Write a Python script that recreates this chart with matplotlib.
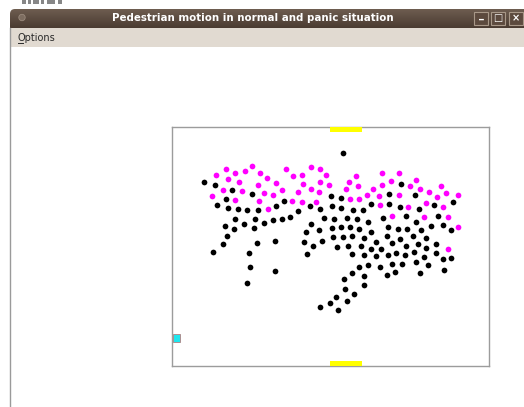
import numpy as np
import matplotlib
matplotlib.use("Agg")
import matplotlib.pyplot as plt
from matplotlib.patches import Rectangle, FancyBboxPatch, Circle
from matplotlib.colors import LinearSegmentedColormap

# ---------------- data (frame-relative pixel units, origin top-left of room) ----------------
black_x = [32.3, 43.3, 60.3, 54, 80, 45.3, 56, 66, 75.3, 86.7, 104.7, 112, 138, 148.7, 126.3, 118, 110.7,
           101.3, 92.7, 83, 63.3, 72, 62.3, 53, 82.3, 152.7, 139.3, 134, 147.3,
           171.3, 159.7, 169, 217.7, 229.7, 243.7, 160, 169.3, 181.3, 191.3, 199, 217.3, 228, 247, 262.7,
           281.3, 162.3, 175.7, 185.3, 196.3, 211.3, 234, 244, 266.7, 160, 169, 178, 187.7, 199, 216.7,
           226.7, 235.3, 249.7, 259.3, 271.3, 279,
           55.3, 51.3, 41.3, 85.3, 103.3, 77.3, 78, 75.7, 103.3, 132.7, 141.3, 150.7, 135.3, 161.3, 171.3,
           180.7, 192, 215.3, 228.7, 241.3, 254, 264, 279.7, 271.3, 272, 165.3, 176.7, 189.3, 204.7, 199.3,
           220.7, 234, 246, 254.7, 264.7, 180.7, 192.7, 209.3, 204, 216, 224.7, 233.3, 242, 252.7, 244, 256,
           230, 220, 208, 196.7, 187.3, 180.7, 192, 172, 192.7, 173.3, 182.7, 164.7, 158, 148.7, 175.3,
           166.7, 215.3, 223.3, 248.7]
black_y = [54.7, 57.3, 62.7, 71.7, 66.7, 77.3, 80.3, 82, 82.3, 83, 78.3, 73.3, 79, 82, 84, 89.7, 92,
           93, 95.7, 91.7, 91.7, 96.3, 101.3, 99, 100.7, 91, 97, 104.7, 103,
           26, 68.7, 70.7, 67, 57, 68, 79, 81, 82.3, 83, 77, 77, 79.7, 82, 78,
           75, 91.3, 90.7, 91.7, 95, 90.3, 89, 94.3, 88.3, 100.7, 100, 99.7, 101.3, 104.3, 99.7,
           101.7, 102, 102.3, 99, 97.7, 103,
           108.3, 117, 124.3, 115.3, 113.7, 126, 140, 156, 143.7, 114.3, 118.7, 114, 126.3, 110, 109.7,
           108.3, 110.7, 108.3, 111.3, 109, 111, 116.7, 130.3, 132, 142.3, 119.7, 118.3, 119, 114.7, 121.3,
           115.7, 119, 117, 120.3, 125.3, 126.3, 128, 122, 129, 128, 125.7, 128, 124.7, 129.7, 134.7, 137.7,
           136.3, 136.7, 140, 137.7, 139.7, 145.7, 148.3, 152, 158, 161.7, 166.3, 169.3, 175.3, 180, 173.3,
           182.7, 147.3, 145, 145.7]

magenta_x = [54.7, 80.7, 44.3, 63.3, 73.3, 88, 95.7, 114.7, 121.3, 130.7, 139.3, 148.7, 154.7, 56.3, 67,
             104, 131.3, 148, 51.3, 70.7, 86.3, 110.7, 126.7, 139.3, 40.3, 92.3, 101.3, 147.3, 63.3, 87.3,
             120.7, 130, 144.7, 96,
             184.7, 177.7, 186.3, 174, 210, 227.3, 219, 210.7, 201.7, 207.7, 195, 187.7, 178.3, 244.7, 238,
             248.7, 257, 269, 274, 265.7, 286.7, 227, 254, 236.7, 271.3, 276, 220.3, 252, 208, 286.7, 157,
             276.7]
magenta_y = [41.3, 39, 47.3, 45.3, 44, 45.3, 50.3, 42, 49, 47.7, 39.3, 41.3, 48, 52, 55,
             55.7, 56.3, 55, 62.3, 63.7, 58, 63, 64.3, 61.3, 69, 65.3, 67.7, 64.7, 73, 74,
             73.7, 74.3, 74.3, 82,
             48.7, 54.3, 59, 62, 45.7, 45.3, 53.7, 58, 61.3, 68.3, 67.3, 71.7, 72, 53, 58.7,
             61.3, 65, 58.3, 65.7, 70, 68, 67.7, 76, 80, 79.7, 90, 89, 89.7, 78, 100, 57.3,
             121.7]

room_w, room_h = 317.0, 238.5
door_x = [158.5, 190.5]               # doors (top and bottom walls)
exit_marker = (1.0, 207.0, 7.5, 7.5)  # cyan marker: x, y, w, h

window_title = "Pedestrian motion in normal and panic situation"
menu_label = "Options"

# ---------------- figure ----------------
W, H = 524, 407
fig = plt.figure(figsize=(W / 100, H / 100), dpi=100)
fig.patch.set_facecolor("white")

bg = fig.add_axes([0, 0, 1, 1])
bg.set_xlim(0, W)
bg.set_ylim(H, 0)
bg.axis("off")

# left window edge line
bg.plot([9.5, 9.5], [28, H], color="#9a9a9a", lw=1.0)

# desktop fragments visible above the window
for fx, fw in [(22, 4), (28, 3), (33, 6), (41, 3), (47, 8), (58, 4)]:
    bg.add_patch(Rectangle((fx, 0), fw, 3.5, facecolor="#555555", edgecolor="none", alpha=0.7))

# title bar with gradient and rounded top-left corner
tb = FancyBboxPatch((10, 9), W + 20, 26, boxstyle="round,pad=0,rounding_size=5",
                    facecolor="none", edgecolor="none")
bg.add_patch(tb)
grad = np.linspace(0, 1, 64).reshape(-1, 1)
cm = LinearSegmentedColormap.from_list("tb", ["#6e5d50", "#4a3b31"])
im = bg.imshow(grad, cmap=cm, extent=(10, W, 28, 9), aspect="auto", zorder=1)
im.set_clip_path(tb)
bg.set_xlim(0, W)
bg.set_ylim(H, 0)

bg.add_patch(Circle((22, 17.5), 3.2, facecolor="#7d6d60", edgecolor="#9a8a7c", lw=0.6, zorder=3))
bg.text(253, 18, window_title, color="white", fontsize=7.4, fontweight="bold",
        ha="center", va="center", family="DejaVu Sans", zorder=3)

# window buttons
for bx, glyph in zip([474, 491, 509], ["_", "□", "×"]):
    bg.add_patch(Rectangle((bx, 11.5), 14, 13, facecolor="#5c4a3e", edgecolor="#a89888",
                           lw=0.8, zorder=3))
    bg.text(bx + 7, 18.5 if glyph != "_" else 15.5, glyph, color="white", fontsize=7,
            fontweight="bold", ha="center", va="center", zorder=4)

# menu bar
bg.add_patch(Rectangle((10, 28), W, 19, facecolor="#e1dad1", edgecolor="none", zorder=1))
bg.text(17, 38, menu_label, color="#2a2a2a", fontsize=7, ha="left", va="center",
        family="DejaVu Sans", zorder=3)
bg.plot([17.5, 23], [42.8, 42.8], color="#2a2a2a", lw=0.7, zorder=3)

# ---------------- room axes ----------------
x0, y0 = 171.7, 127.3
ax = fig.add_axes([x0 / W, 1 - (y0 + room_h) / H, room_w / W, room_h / H])
ax.set_xlim(0, room_w)
ax.set_ylim(room_h, 0)
ax.set_xticks([])
ax.set_yticks([])
for s in ax.spines.values():
    s.set_color("#9c9c9c")
    s.set_linewidth(1.0)

ax.scatter(black_x, black_y, s=17, c="black", linewidths=0, zorder=3)
ax.scatter(magenta_x, magenta_y, s=17, c="#ff00ff", linewidths=0, zorder=3)

ax.add_patch(Rectangle((door_x[0], 0), door_x[1] - door_x[0], 4.2, facecolor="#ffff00",
                       edgecolor="none", zorder=4, clip_on=False))
ax.add_patch(Rectangle((door_x[0], room_h - 4.5), door_x[1] - door_x[0], 4.5, facecolor="#ffff00",
                       edgecolor="none", zorder=4, clip_on=False))
ax.add_patch(Rectangle((exit_marker[0], exit_marker[1]), exit_marker[2], exit_marker[3],
                       facecolor="#1ee6ee", edgecolor="#b08080", lw=0.6, zorder=4))

fig.savefig("out.png", dpi=100)
